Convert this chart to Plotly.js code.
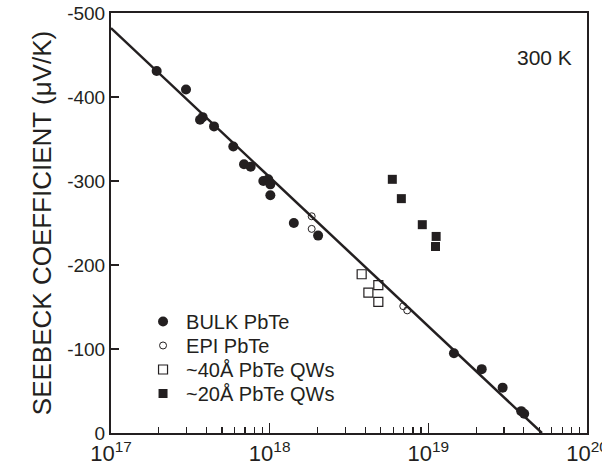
<!DOCTYPE html>
<html>
<head>
<meta charset="utf-8">
<script src="https://cdn.plot.ly/plotly-3.0.1.min.js"></script>
<style>html,body{margin:0;padding:0;background:#fff;}#chart{width:602px;height:470px;}</style>
</head>
<body>
<div id="chart"></div>
<script>
// Carrier concentration (cm^-3) and Seebeck coefficient (µV/K)
const bulkX = [1.94e17, 2.97e17, 3.64e17, 3.78e17, 4.46e17, 5.90e17, 6.89e17, 7.59e17, 9.12e17, 9.80e17, 1.01e18, 1.01e18, 1.42e18, 2.02e18, 1.45e19, 2.17e19, 2.94e19, 3.85e19, 4.02e19];
const bulkY = [-431, -409, -373, -376, -365, -341, -320, -317, -300, -302, -296, -283, -250, -235, -95, -76, -54, -26, -23];
const epiX = [1.84e18, 1.84e18, 6.95e18, 7.36e18];
const epiY = [-258, -243, -151, -146];
const qw40X = [3.80e18, 4.84e18, 4.19e18, 4.84e18];
const qw40Y = [-189, -176, -167, -156];
const qw20X = [5.93e18, 6.76e18, 9.16e18, 1.12e19, 1.11e19];
const qw20Y = [-302, -279, -248, -234, -222];
const fitX = [1e17, 5.2e19];
const fitY = [-482, 0];
const seriesNames = ['BULK PbTe', 'EPI PbTe', '~40Å PbTe QWs', '~20Å PbTe QWs'];
const xTickVals = [1e17, 1e18, 1e19, 1e20];
const xTickText = ['10<sup>17</sup>', '10<sup>18</sup>', '10<sup>19</sup>', '10<sup>20</sup>'];
const yTickVals = [0, -100, -200, -300, -400, -500];
const yTickText = ['0', '-100', '-200', '-300', '-400', '-500'];

const ink = '#231f20';
const minorVals = [];
for (let d = 17; d < 20; d++) for (let m = 2; m <= 9; m++) minorVals.push(m * Math.pow(10, d));

const traces = [
  {x: fitX, y: fitY, mode: 'lines', line: {color: ink, width: 2.5}, showlegend: false, hoverinfo: 'skip'},
  {x: bulkX, y: bulkY, mode: 'markers', name: seriesNames[0], legend: 'legend', marker: {symbol: 'circle', size: 10, color: ink}},
  {x: epiX, y: epiY, mode: 'markers', name: seriesNames[1], legend: 'legend2', marker: {symbol: 'circle-open', size: 7, color: ink, line: {width: 1}}},
  {x: qw40X, y: qw40Y, mode: 'markers', name: seriesNames[2], legend: 'legend3', marker: {symbol: 'square-open', size: 9, color: ink, line: {width: 1.2}}},
  {x: qw20X, y: qw20Y, mode: 'markers', name: seriesNames[3], legend: 'legend4', marker: {symbol: 'square', size: 9, color: ink}}
];

function leg(y) {
  return {x: 0.061, y: y, xanchor: 'left', yanchor: 'top', bgcolor: 'rgba(0,0,0,0)', font: {size: 20, color: ink}, itemwidth: 36};
}

const layout = {
  width: 602, height: 470,
  margin: {l: 111, r: 15, t: 13, b: 37},
  paper_bgcolor: '#fff', plot_bgcolor: '#fff',
  font: {family: 'Liberation Sans, Arial, sans-serif', color: ink, size: 19},
  showlegend: true,
  legend: leg(0.312),
  legend2: leg(0.2548),
  legend3: leg(0.1976),
  legend4: leg(0.1405),
  xaxis: {
    type: 'log', range: [17, 20.00001],
    tickmode: 'array', tickvals: xTickVals, ticktext: xTickText,
    ticks: 'inside', ticklen: 10, tickwidth: 1.5, tickcolor: ink,
    ticklabeloverflow: 'allow',
    minor: {tickmode: 'array', tickvals: minorVals, ticks: 'inside', ticklen: 6, tickwidth: 1.2, tickcolor: ink, showgrid: false},
    showline: true, linecolor: ink, linewidth: 2, mirror: true,
    showgrid: false, zeroline: false,
    tickfont: {size: 22, color: ink}
  },
  yaxis: {
    range: [0, -500],
    tickmode: 'array', tickvals: yTickVals, ticktext: yTickText,
    ticks: 'inside', ticklen: 8, tickwidth: 1.5, tickcolor: ink,
    showline: true, linecolor: ink, linewidth: 2, mirror: true,
    showgrid: false, zeroline: false,
    tickfont: {size: 19, color: ink},
    title: {text: 'SEEBECK COEFFICIENT (μV/K)', font: {size: 26, color: ink}, standoff: 8}
  },
  annotations: [
    {text: '300 K', xref: 'paper', yref: 'paper', x: 0.91, y: 0.893, xanchor: 'center', yanchor: 'middle', showarrow: false, font: {size: 21, color: ink}}
  ]
};

Plotly.newPlot('chart', traces, layout, {displayModeBar: false, staticPlot: true});
</script>
</body>
</html>
